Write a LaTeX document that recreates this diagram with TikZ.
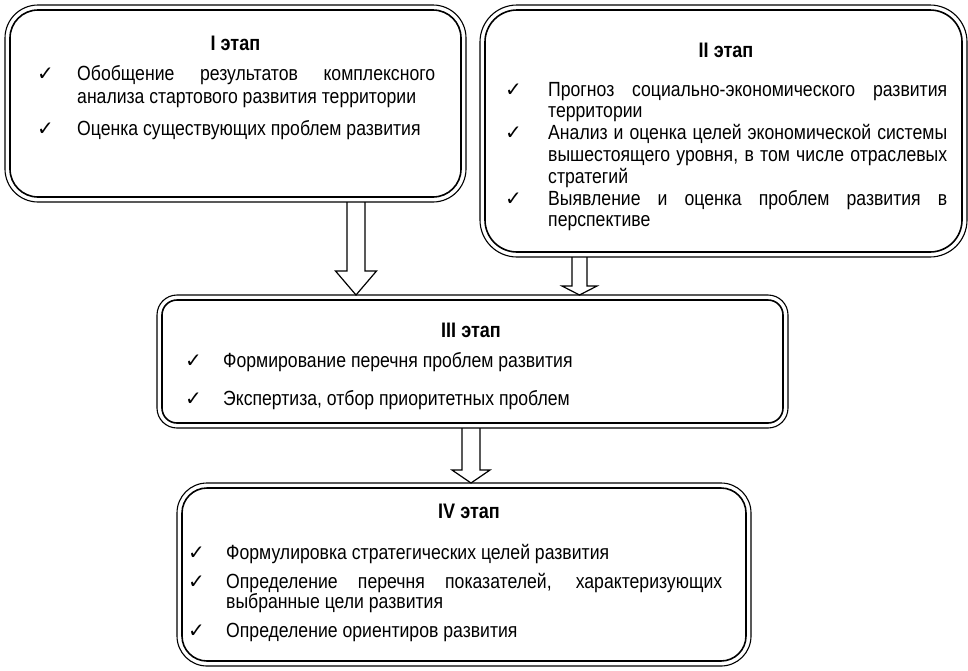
\documentclass[tikz,border=0pt]{standalone}
\usepackage{fontspec}
\setmainfont{Liberation Sans}[FakeStretch=0.86]
\newfontfamily\ckfont{DejaVu Sans}
\usetikzlibrary{calc}
\hyphenpenalty=10000
\exhyphenpenalty=10000
\emergencystretch=20pt
\newcommand\ck{{\ckfont\fontsize{20}{20}\selectfont ✓}}
\tikzset{
  stage/.style={draw, line width=1.1pt, inner sep=0pt, outer sep=0pt, rectangle},
  innerline/.style={draw, line width=1.6pt},
  arrowline/.style={draw, line width=1.2pt, line join=miter},
  ttl/.style={font=\fontsize{21}{22}\selectfont\bfseries, anchor=base, inner sep=0pt},
  chk/.style={anchor=base west, inner sep=0pt},
  itm/.style={anchor=base west, inner sep=0pt, align=justify, text width=#1},
}
\newcommand\stagebox[7]{% name, x1, y1, x2, y2, r, inner r
  \node[stage, rounded corners=#6, minimum width=#4-#2, minimum height=#5-#3] (#1) at ({(#2+#4)/2},{(#3+#5)/2}) {};
  \draw[innerline, rounded corners=#7] ([shift={(5,5)}]#1.north west) rectangle ([shift={(-5,-5)}]#1.south east);
}
\newcommand\hollowarrow[5]{% start, tip, shaft half, head half, head length
  \draw[arrowline] ($(#1)+(-#3,0)$) -- ($(#2)+(-#3,-#5)$) -- ($(#2)+(-#4,-#5)$) -- (#2) -- ($(#2)+(#4,-#5)$) -- ($(#2)+(#3,-#5)$) -- ($(#1)+(#3,0)$);
}
\begin{document}
\begin{tikzpicture}[x=1pt, y=-1pt]
\useasboundingbox (0,0) rectangle (968,670);

\stagebox{b1}{5}{5}{466}{202}{33}{28}
\stagebox{b2}{480}{5}{967}{257}{37}{32}
\stagebox{b3}{157}{295}{788}{428}{20}{15}
\stagebox{b4}{177}{483}{751}{666}{30}{25}

% Box I
\node[ttl] (t1) at (235.5,50) {I этап};
\node[chk] (k11) at (37,80.7) {\ck};
\node[itm=358pt, font=\fontsize{20.5}{22.6}\selectfont] (i11) at (77,80.7) {Обобщение результатов комплексного\linebreak анализа стартового развития территории};
\node[chk] (k12) at (37,135) {\ck};
\node[itm=358pt, font=\fontsize{20.5}{22.6}\selectfont] (i12) at (77,135) {Оценка существующих проблем развития};

% Box II
\node[ttl] (t2) at (726,57) {II этап};
\node[chk] (k21) at (505,96) {\ck};
\node[itm=399pt, font=\fontsize{20.5}{21.8}\selectfont] (i21) at (548,96) {Прогноз социально-экономического развития\linebreak территории};
\node[chk] (k22) at (505,139.6) {\ck};
\node[itm=399pt, font=\fontsize{20.5}{21.8}\selectfont] (i22) at (548,139.6) {Анализ и оценка целей экономической системы\linebreak вышестоящего уровня, в~том числе отраслевых\linebreak стратегий};
\node[chk] (k23) at (505,205) {\ck};
\node[itm=399pt, font=\fontsize{20.5}{21.8}\selectfont] (i23) at (548,205) {Выявление и оценка проблем развития в\linebreak перспективе};

% Box III
\node[ttl] (t3) at (471,337) {III этап};
\node[chk] (k31) at (185,367) {\ck};
\node[itm=500pt, font=\fontsize{20.5}{22}\selectfont] (i31) at (223,367) {Формирование перечня проблем развития};
\node[chk] (k32) at (185,405) {\ck};
\node[itm=500pt, font=\fontsize{20.5}{22}\selectfont] (i32) at (223,405) {Экспертиза, отбор приоритетных проблем};

% Box IV
\node[ttl] (t4) at (469,518) {IV этап};
\node[chk] (k41) at (188,559) {\ck};
\node[itm=496pt, font=\fontsize{20.5}{20.5}\selectfont] (i41) at (226,559) {Формулировка стратегических целей развития};
\node[chk] (k42) at (188,588) {\ck};
\node[itm=496pt, font=\fontsize{20.5}{20.5}\selectfont] (i42) at (226,588) {Определение перечня показателей, характеризующих\linebreak выбранные цели развития};
\node[chk] (k43) at (188,637) {\ck};
\node[itm=496pt, font=\fontsize{20.5}{20.5}\selectfont] (i43) at (226,637) {Определение ориентиров развития};

% Arrows
\coordinate (c1) at (356,0);
\coordinate (c2) at (579.5,0);
\coordinate (c3) at (471,0);
\coordinate (s1) at (c1 |- b1.south);
\coordinate (e1) at (c1 |- b3.north);
\coordinate (s2) at (c2 |- b2.south);
\coordinate (e2) at (c2 |- b3.north);
\coordinate (s3) at (c3 |- b3.south);
\coordinate (e3) at (c3 |- b4.north);
\hollowarrow{s1}{e1}{9}{20.5}{24}
\hollowarrow{s2}{e2}{7.5}{17.5}{9}
\hollowarrow{s3}{e3}{9}{19}{13}
\end{tikzpicture}
\end{document}
